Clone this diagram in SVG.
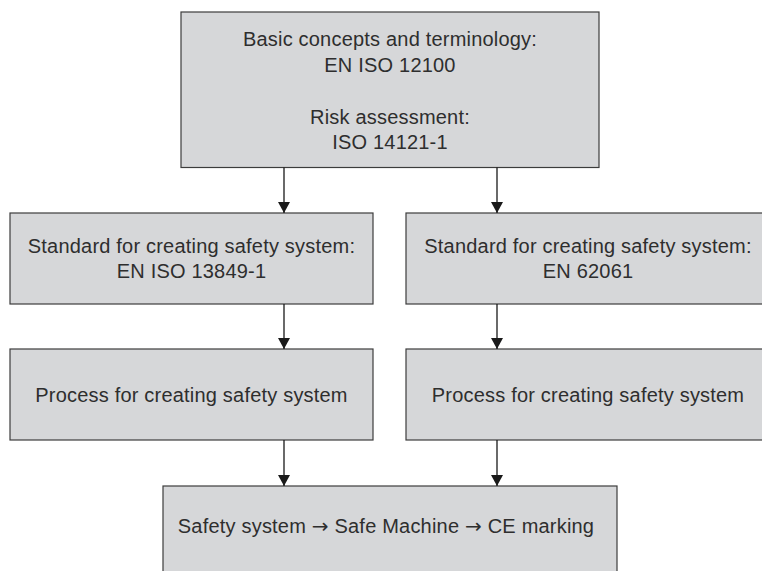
<svg xmlns="http://www.w3.org/2000/svg" width="762" height="571" viewBox="0 0 762 571">
<defs>
<style>
.box{fill:#d6d7d9;stroke:#3c3c3c;stroke-width:1.2}
.t{font-family:"Liberation Sans",Arial,sans-serif;font-size:20px;letter-spacing:0.2px;fill:#2e2e2e;text-anchor:middle}
.ar{font-family:"DejaVu Sans",sans-serif;font-size:20px}
.c{stroke:#1a1a1a;stroke-width:1.3;fill:none}
</style>
<marker id="ah" viewBox="0 0 11 12" refX="11" refY="6" markerWidth="11" markerHeight="12" markerUnits="userSpaceOnUse" orient="auto">
<path d="M0,0 L11,6 L0,12 Z" fill="#1a1a1a"/>
</marker>
</defs>
<rect width="762" height="571" fill="#ffffff"/>
<g id="top">
<rect class="box" x="181" y="12" width="418" height="155.5"/>
<text class="t" x="390" y="46">Basic concepts and terminology:</text>
<text class="t" x="390" y="72">EN ISO 12100</text>
<text class="t" x="390" y="124">Risk assessment:</text>
<text class="t" x="390" y="149">ISO 14121-1</text>
</g>
<g id="std-left">
<rect class="box" x="10" y="213" width="363" height="91"/>
<text class="t" x="191.5" y="253">Standard for creating safety system:</text>
<text class="t" x="191.5" y="278">EN ISO 13849-1</text>
</g>
<g id="std-right">
<rect class="box" x="406" y="213" width="366" height="91"/>
<text class="t" x="588" y="253">Standard for creating safety system:</text>
<text class="t" x="588" y="278">EN 62061</text>
</g>
<g id="proc-left">
<rect class="box" x="10" y="349" width="363" height="91"/>
<text class="t" x="191.5" y="402">Process for creating safety system</text>
</g>
<g id="proc-right">
<rect class="box" x="406" y="349" width="366" height="91"/>
<text class="t" x="588" y="402">Process for creating safety system</text>
</g>
<g id="result">
<rect class="box" x="163" y="486" width="454" height="100"/>
<text class="t" x="386" y="533">Safety system <tspan class="ar">→</tspan> Safe Machine <tspan class="ar">→</tspan> CE marking</text>
</g>
<g id="connectors">
<line class="c" x1="284" y1="167.5" x2="284" y2="213" marker-end="url(#ah)"/>
<line class="c" x1="497" y1="167.5" x2="497" y2="213" marker-end="url(#ah)"/>
<line class="c" x1="284" y1="304" x2="284" y2="349" marker-end="url(#ah)"/>
<line class="c" x1="497" y1="304" x2="497" y2="349" marker-end="url(#ah)"/>
<line class="c" x1="284" y1="440" x2="284" y2="486" marker-end="url(#ah)"/>
<line class="c" x1="497" y1="440" x2="497" y2="486" marker-end="url(#ah)"/>
</g>
</svg>
